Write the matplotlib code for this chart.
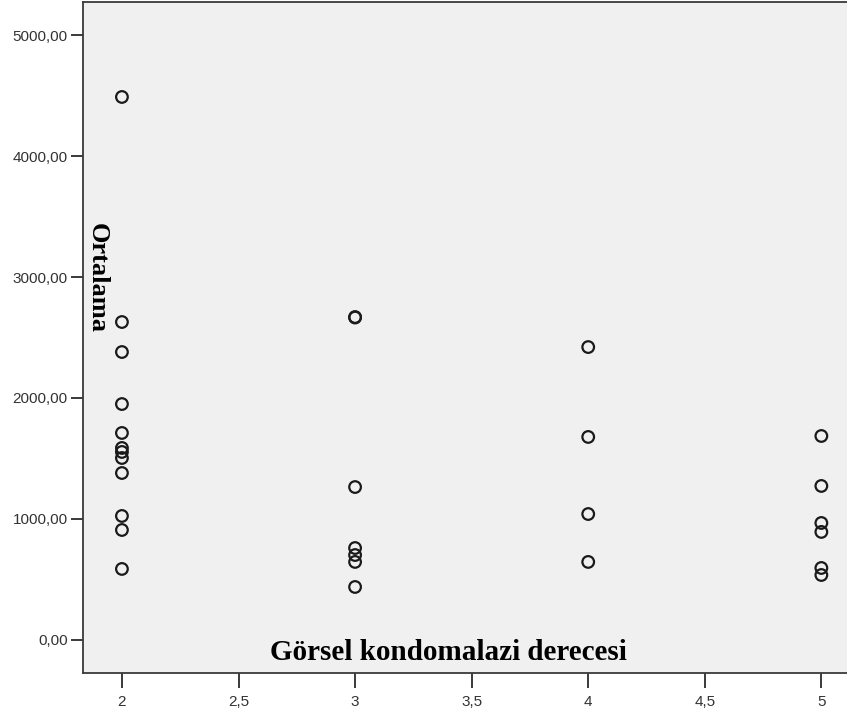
import matplotlib
matplotlib.use("Agg")
from matplotlib import pyplot as plt
from matplotlib.ticker import FuncFormatter

# Görsel kondomalazi derecesi vs Ortalama
grade = [2, 2, 2, 2, 2, 2, 2, 2, 2, 2, 2, 2,
         3, 3, 3, 3, 3, 3, 3,
         4, 4, 4, 4,
         5, 5, 5, 5, 5, 5]
mean_val = [4488, 2628, 2380, 1950, 1711, 1587, 1554, 1504, 1380, 1025, 909, 587,
            2669, 2665, 1264, 760, 702, 645, 438,
            2421, 1678, 1041, 645,
            1686, 1273, 967, 893, 595, 537]

x_ticks = [2, 2.5, 3, 3.5, 4, 4.5, 5]
y_ticks = [0, 1000, 2000, 3000, 4000, 5000]


def comma_fmt(v, decimals):
    s = f"{v:.{decimals}f}" if decimals else f"{v:g}"
    return s.replace(".", ",")


fig = plt.figure(figsize=(8.47, 7.18), dpi=100)
ax = fig.add_axes([83 / 847, 45 / 718, 1 - 83 / 847, (673 - 2) / 718])
ax.set_facecolor("#f0f0f0")

ax.scatter(grade, mean_val, s=70, facecolors="none", edgecolors="#1a1a1a", linewidths=1.6, zorder=3)

ax.set_xlim(1.833, 5.11)
ax.set_ylim(-273, 5273)
ax.set_xticks(x_ticks)
ax.set_yticks(y_ticks)
ax.xaxis.set_major_formatter(FuncFormatter(lambda v, p: comma_fmt(v, 0)))
ax.yaxis.set_major_formatter(FuncFormatter(lambda v, p: comma_fmt(v, 2)))

for side in ["left", "bottom", "top"]:
    ax.spines[side].set_color("#3a3a3a")
    ax.spines[side].set_linewidth(1.3)
ax.spines["right"].set_visible(False)

ax.tick_params(axis="y", length=9, width=1.4, color="#3a3a3a", labelsize=11, labelcolor="#333333", pad=2)
ax.tick_params(axis="x", length=10.5, width=1.4, color="#3a3a3a", labelsize=11, labelcolor="#333333", pad=5)
for lbl in ax.get_xticklabels() + ax.get_yticklabels():
    lbl.set_family("Liberation Sans")

# axis titles drawn inside the plot area, as in the original (pixel coords, origin bottom-left)
ax.text(448, 718 - 652, "Görsel kondomalazi derecesi", transform=None, ha="center", va="center",
        family="Liberation Serif", fontweight="bold", fontsize=21, color="black")
ax.text(97, 718 - 278, "Ortalama", transform=None, ha="center", va="center", rotation=-90,
        family="Liberation Serif", fontweight="bold", fontsize=19, color="black")

fig.savefig("out.png", dpi=100)
